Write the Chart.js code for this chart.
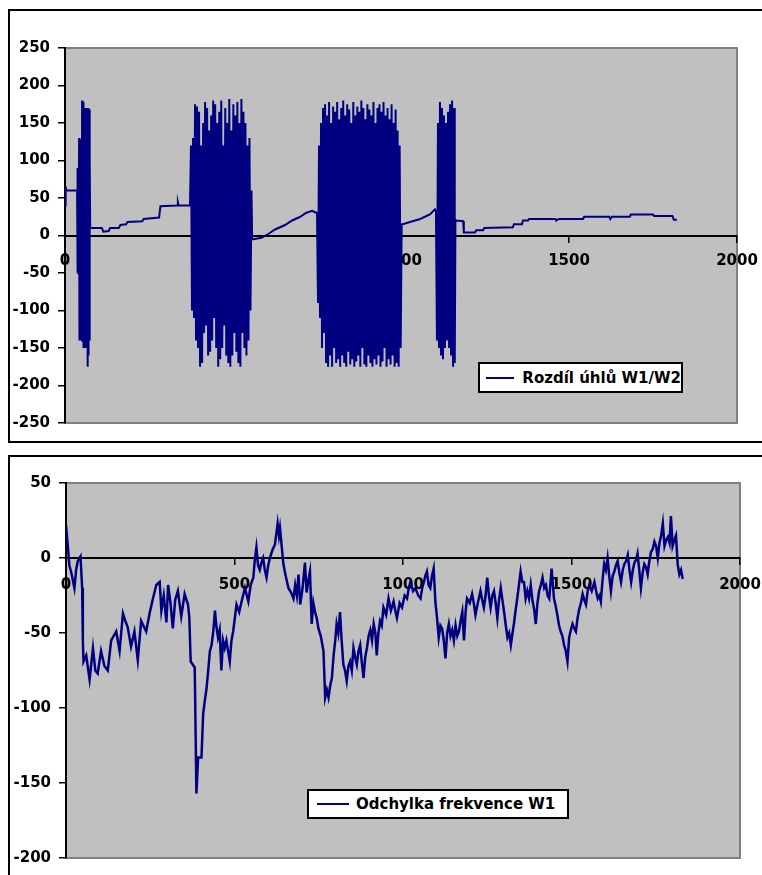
<!DOCTYPE html>
<html>
<head>
<meta charset="utf-8">
<script src="https://cdn.jsdelivr.net/npm/chart.js@4.4.1/dist/chart.umd.min.js"></script>
<style>
  html, body { margin: 0; padding: 0; background: #fff; width: 762px; height: 875px; overflow: hidden; }
  .frame { position: absolute; box-sizing: border-box; border: 2px solid #000; border-right: none; background: #fff; }
  canvas { position: absolute; left: 0; }
  .legend { position: absolute; box-sizing: border-box; border: 2px solid #000; background: #fff;
            display: flex; align-items: center; font-family: "DejaVu Sans", sans-serif; font-weight: bold;
            font-size: 15px; color: #000; white-space: nowrap; z-index: 3; }
  .legend .sample { display: inline-block; height: 2px; background: #000080; }
</style>
</head>
<body>
<div class="frame" style="left:8px; top:9px; width:780px; height:434px;"></div>
<div class="frame" style="left:8px; top:455px; width:780px; height:440px;"></div>
<canvas id="c1" width="762" height="445" style="top:0; z-index:2;"></canvas>
<canvas id="c2" width="762" height="430" style="top:445px; z-index:2;"></canvas>
<div class="legend" id="leg1" style="left:478px; top:362px; width:205px; height:31px;">
  <span class="sample" style="margin-left:6px; width:30px; margin-right:8px;"></span><span id="leg1t"></span>
</div>
<div class="legend" id="leg2" style="left:307px; top:789px; width:262px; height:30px;">
  <span class="sample" style="margin-left:8px; width:32px; margin-right:7px;"></span><span id="leg2t"></span>
</div>
<script>
// ---------- data ----------
const topLabel = "Rozdíl úhlů W1/W2";
const bottomLabel = "Odchylka frekvence W1";

const xTicksStep = 500;
const topYTicks = { min: -250, max: 250, step: 50 };
const bottomYTicks = { min: -200, max: 50, step: 50 };

const topX = [
  0,2,4,10,20,30,36,
  37,38,39,40,42,43,45,46,48,49,51,52,54,55,57,58,60,61,63,64,66,67,68,69,70,72,73,74,
  75,110,114,130,134,160,165,182,186,230,234,280,284,334,336,338,372,
  375,378,381,384,387,390,393,396,399,402,405,408,411,414,417,420,423,426,429,432,
  435,438,441,444,447,450,453,456,459,462,465,468,471,474,477,480,483,486,489,492,
  495,498,501,504,507,510,513,516,519,522,525,528,531,534,537,540,543,546,549,552,555,557,
  560,585,605,625,655,676,700,717,735,750,
  753,756,759,762,765,768,771,774,777,780,783,786,789,792,795,798,801,804,807,810,
  813,816,819,822,825,828,831,834,837,840,843,846,849,852,855,858,861,864,867,870,
  873,876,879,882,885,888,891,894,897,900,903,906,909,912,915,918,921,924,927,930,
  933,936,939,942,945,948,951,954,957,960,963,966,969,972,975,978,981,984,987,990,
  993,996,999,1002,
  1005,1027,1057,1086,1101,1104,
  1107,1110,1113,1116,1119,1122,1125,1128,1131,1134,1137,1140,1143,1146,1149,1152,1155,1158,1160,1162,
  1165,1185,1187,1220,1224,1244,1248,1333,1336,1360,1363,1378,1381,1460,1462,1470,1542,1545,1620,1623,
  1628,1681,1684,1750,1753,1808,1812,1821
];
const topY = [
  40,65,60,60,60,60,60,
  90,-50,88,-52,130,-140,128,-138,125,-140,180,-142,178,-150,170,-148,168,-150,170,-150,165,-148,-175,170,-160,168,-140,100,
  10,10,5,6,10,10,14,15,18,19,22,24,39,40,44,40,40,
  120,-100,130,-110,175,-140,172,-150,165,-175,120,-170,150,-130,178,-120,170,-160,140,-155,
  160,-140,180,-110,175,-150,150,-175,165,-165,180,-150,120,-120,170,-160,150,-170,182,-175,
  140,-160,175,-130,160,-155,178,-170,150,-175,182,-130,165,-150,150,-160,120,-140,130,-100,60,-5,
  -5,-3,2,8,14,20,25,30,33,30,
  -90,120,-110,150,-150,170,-130,175,-170,160,-175,178,-160,150,-175,172,-150,165,-170,178,
  -165,155,-175,170,-160,180,-170,160,-175,175,-155,168,-172,150,-165,178,-175,160,-168,172,
  -160,165,-175,180,-150,170,-172,155,-175,175,-160,168,-170,160,-175,178,-165,150,-172,170,
  -160,175,-175,165,-168,178,-150,160,-175,170,-165,155,-172,175,-160,150,-175,168,-170,140,
  -175,120,-150,15,
  15,18,22,28,35,33,
  -140,150,-150,178,-160,170,-165,160,-150,150,-140,165,-150,175,-160,180,-175,170,-170,21,
  20,19,4,4,7,7,10,11,15,15,20,20,22,22,20,22,22,25,25,22,
  25,25,28,28,26,26,21,21
];

const bottomX = [
  0,5,10,15,25,30,35,43,48,50,
  52,60,70,80,87,94,104,114,124,134,
  149,159,169,176,183,193,203,213,223,238,
  248,258,268,278,283,290,298,303,310,317,
  324,332,342,352,362,366,370,382,387,392,
  402,407,412,417,422,427,432,437,442,446,
  451,456,461,466,471,476,486,491,496,501,
  506,514,521,531,541,548,556,560,565,570,
  575,580,585,590,595,600,605,612,620,628,
  632,635,640,645,652,660,668,675,680,685,
  690,695,702,709,714,719,724,729,734,739,
  744,749,756,764,769,774,779,784,789,794,
  799,803,808,813,818,823,828,833,838,843,
  848,853,858,863,868,873,878,883,888,893,
  898,903,908,913,918,922,927,932,937,942,
  950,957,964,972,977,982,990,997,1005,1012,
  1017,1022,1030,1037,1045,1052,1057,1062,1066,1071,
  1076,1081,1086,1091,1096,1101,1106,1111,1116,1121,
  1126,1131,1136,1141,1146,1151,1156,1161,1166,1171,
  1176,1181,1186,1190,1198,1205,1210,1215,1222,1230,
  1235,1240,1245,1250,1255,1260,1265,1270,1275,1280,
  1285,1290,1295,1300,1305,1310,1315,1320,1325,1329,
  1334,1339,1344,1349,1354,1359,1364,1369,1374,1379,
  1384,1389,1394,1399,1404,1409,1414,1419,1424,1429,
  1434,1441,1448,1453,1458,1463,1468,1473,1478,1483,
  1488,1493,1498,1503,1508,1513,1518,1523,1528,1533,
  1538,1543,1548,1553,1560,1568,1573,1578,1583,1587,
  1592,1597,1602,1607,1612,1617,1622,1627,1632,1637,
  1642,1647,1652,1657,1662,1667,1672,1677,1682,1687,
  1692,1696,1701,1706,1711,1716,1721,1726,1731,1736,
  1741,1746,1751,1756,1761,1766,1771,1776,1781,1786,
  1791,1795,1800,1805,1810,1815,1820,1825,1830
];
const bottomY = [
  22,9,-5,-9,-20,-8,-2,1,-20,-55,
  -69,-65,-81,-60,-75,-77,-62,-72,-75,-55,
  -49,-62,-37,-42,-46,-59,-49,-68,-42,-49,
  -37,-27,-18,-16,-35,-25,-43,-18,-30,-47,
  -28,-22,-39,-24,-31,-40,-69,-73,-157,-133,
  -133,-104,-95,-87,-75,-62,-58,-49,-35,-45,
  -53,-48,-75,-55,-60,-55,-69,-55,-49,-40,
  -31,-36,-29,-20,-29,-18,-13,-2,7,-5,
  -8,-3,0,-8,-13,-5,0,5,9,23,
  15,20,8,-4,-12,-20,-23,-27,-18,-25,
  -11,-31,-20,-3,-23,-15,-9,-44,-30,-36,
  -40,-47,-52,-62,-93,-88,-93,-85,-80,-65,
  -55,-44,-50,-36,-55,-71,-75,-82,-72,-69,
  -75,-60,-66,-71,-62,-58,-70,-80,-66,-60,
  -52,-48,-55,-44,-50,-65,-50,-42,-45,-33,
  -38,-27,-35,-29,-35,-40,-30,-33,-25,-27,
  -20,-16,-22,-20,-25,-27,-20,-16,-12,-9,
  -18,-20,-12,-7,-29,-40,-53,-45,-47,-55,
  -67,-50,-44,-52,-48,-55,-45,-52,-49,-42,
  -36,-55,-35,-27,-30,-24,-30,-38,-30,-22,
  -28,-33,-25,-13,-25,-33,-25,-22,-30,-40,
  -28,-20,-28,-36,-45,-53,-50,-58,-50,-44,
  -35,-27,-18,-9,-16,-16,-27,-22,-27,-18,
  -28,-34,-44,-30,-22,-18,-13,-20,-18,-25,
  -27,-7,-27,-32,-38,-45,-49,-52,-58,-62,
  -69,-53,-48,-44,-47,-49,-40,-34,-30,-24,
  -28,-31,-22,-18,-22,-16,-22,-27,-25,-29,
  -15,-4,-8,0,-12,-22,-12,-9,-5,-2,
  -10,-16,-8,-4,-2,2,-8,-16,-8,-3,
  -1,3,-8,-20,-10,-4,-6,-11,-2,4,
  6,11,8,0,10,15,23,8,12,14,
  10,28,8,12,15,-4,-11,-8,-14
];

// ---------- chart setup ----------
const FONT = { family: "'DejaVu Sans', sans-serif", size: 15, weight: 'bold' };
const NAVY = '#000080';
const NUMFMT = { useGrouping: false };

const plotBg = {
  id: 'plotBg',
  beforeDraw(chart) {
    const { ctx, chartArea: a } = chart;
    ctx.save();
    ctx.fillStyle = '#c0c0c0';
    ctx.fillRect(a.left, a.top, a.right - a.left, a.bottom - a.top);
    ctx.strokeStyle = '#808080';
    ctx.lineWidth = 2;
    ctx.strokeRect(a.left, a.top, a.right - a.left, a.bottom - a.top);
    ctx.restore();
  }
};

function makeChart(id, xs, ys, label, yt, pad, axisW, xPad, lw) {
  const pts = xs.map((x, i) => ({ x: x, y: ys[i] }));
  return new Chart(document.getElementById(id), {
    type: 'line',
    data: { datasets: [{ label: label, data: pts, borderColor: NAVY, borderWidth: lw,
                         pointRadius: 0, tension: 0, fill: false }] },
    options: {
      responsive: false, animation: false, devicePixelRatio: 1, events: [],
      layout: { padding: pad },
      plugins: { legend: { display: false }, tooltip: { enabled: false } },
      scales: {
        x: {
          type: 'linear', min: 0, max: 2000, position: { y: 0 },
          ticks: { stepSize: xTicksStep, padding: xPad, color: '#000', font: FONT, maxRotation: 0,
                   autoSkip: false, format: NUMFMT },
          grid: { drawOnChartArea: false, drawTicks: true, tickLength: 6, color: '#000', lineWidth: 1.5 },
          border: { display: true, color: '#000', width: 2 },
          afterFit(s) { s.paddingLeft = 0; s.paddingRight = 0; }
        },
        y: {
          type: 'linear', position: 'left', min: yt.min, max: yt.max,
          ticks: { stepSize: yt.step, padding: 8, color: '#000', font: FONT, autoSkip: false, format: NUMFMT },
          grid: { drawOnChartArea: false, drawTicks: true, tickLength: 7, color: '#000', lineWidth: 1.5 },
          border: { display: true, color: '#000', width: 2 },
          afterFit(s) { s.width = axisW; s.paddingTop = 0; s.paddingBottom = 0; }
        }
      }
    },
    plugins: [plotBg]
  });
}

makeChart('c1', topX, topY, topLabel, topYTicks, { left: 0, top: 48, right: 25, bottom: 22 }, 65, 11, 2);
makeChart('c2', bottomX, bottomY, bottomLabel, bottomYTicks, { left: 0, top: 38, right: 22, bottom: 17 }, 66, 12, 2.5);

document.getElementById('leg1t').textContent = topLabel;
document.getElementById('leg2t').textContent = bottomLabel;
</script>
</body>
</html>
